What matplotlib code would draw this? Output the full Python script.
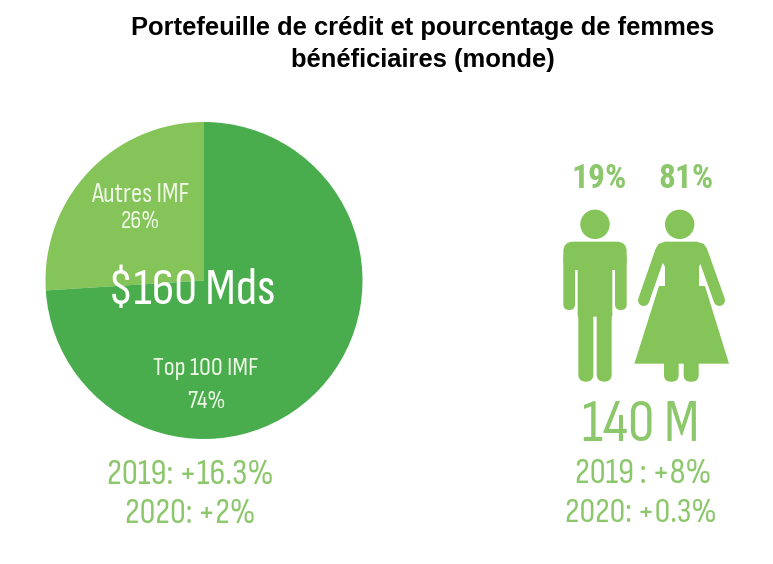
import matplotlib.pyplot as plt
from matplotlib.patches import FancyBboxPatch, Circle, Polygon

W, H = 773, 564

# pie data
pie_labels = ["Autres IMF", "Top 100 IMF"]
pie_shares = [26, 74]
pie_total = "$160 Mds"
pie_growth = ["2019: +16.3%", "2020: +2%"]

# people data
people_shares = [19, 81]
people_total = "140 M"
people_growth = ["2019 : +8%", "2020: +0.3%"]

DARK = "#4aad4d"
LIGHT = "#85c458"
TEXT_GREEN = "#8cc76c"
PALE = "#eef7e6"
NARROW = ["Sofia Sans Condensed", "Roboto Condensed", "Liberation Sans"]
NARROW_BOLD = ["Roboto Condensed", "Liberation Sans"]

fig = plt.figure(figsize=(W / 100, H / 100), dpi=100, facecolor="white")

# pie placed by its bounding box in pixels
cx, cy, r = 204, 280.5, 158.5
ax_pie = fig.add_axes([(cx - r) / W, 1 - (cy + r) / H, 2 * r / W, 2 * r / H])
ax_pie.pie(pie_shares, colors=[LIGHT, DARK], startangle=90, radius=1,
           wedgeprops={"linewidth": 0})
ax_pie.set_xlim(-1, 1)
ax_pie.set_ylim(-1, 1)

# overlay in pixel coordinates for the text and the icons
ax = fig.add_axes([0, 0, 1, 1], facecolor="none")
ax.set_xlim(0, W)
ax.set_ylim(H, 0)
ax.axis("off")


def zx(v):
    return 550 + v / 3


def zy(v):
    return 160 + v / 3


def rbox(x0, y0, x1, y1, rad):
    ax.add_patch(FancyBboxPatch((zx(x0), zy(y0)), (x1 - x0) / 3, (y1 - y0) / 3,
                                boxstyle=f"round,pad=0,rounding_size={rad / 3}",
                                fc=LIGHT, ec="none"))


def poly(points):
    ax.add_patch(Polygon([(zx(a), zy(b)) for a, b in points], closed=True, fc=LIGHT, ec="none"))


def limb(x0, y0, x1, y1, width):
    ax.plot([zx(x0), zx(x1)], [zy(y0), zy(y1)], color=LIGHT,
            lw=width / 3 * 0.72, solid_capstyle="round")


# man
ax.add_patch(Circle((zx(135), zy(193)), 14.7, fc=LIGHT, ec="none"))
rbox(40, 245, 230, 330, 30)
rbox(83, 300, 187, 470, 0)
rbox(40, 280, 75, 450, 17)
rbox(195, 280, 230, 450, 17)
rbox(85, 440, 130, 665, 22)
rbox(140, 440, 185, 665, 22)

# woman
ax.add_patch(Circle((zx(389), zy(193)), 14.7, fc=LIGHT, ec="none"))
limb(333, 272, 281, 421, 34)
limb(455, 272, 508, 421, 34)
poly([(345, 245), (440, 245), (462, 252), (472, 272), (447, 320), (345, 320),
      (316, 272), (325, 252)])
rbox(345, 310, 447, 380, 0)
poly([(327, 378), (465, 378), (537, 611), (253, 611)])
rbox(342, 590, 386, 665, 20)
rbox(401, 590, 446, 665, 20)

# title
ax.text(422.5, 28.5, "Portefeuille de crédit et pourcentage de femmes", ha="center",
        va="center", fontsize=18.4, fontweight="bold", family="Liberation Sans", color="black")
ax.text(422.5, 59.5, "bénéficiaires (monde)", ha="center", va="center",
        fontsize=18.4, fontweight="bold", family="Liberation Sans", color="black")

# labels on the pie
ax.text(140, 195, pie_labels[0], ha="center", va="center", color=PALE,
        fontsize=20, family=NARROW)
ax.text(140, 222, f"{pie_shares[0]}%", ha="center", va="center", color=PALE,
        fontsize=18, family=NARROW)
ax.text(206, 369, pie_labels[1], ha="center", va="center", color=PALE,
        fontsize=19, family=NARROW)
ax.text(206, 402, f"{pie_shares[1]}%", ha="center", va="center", color=PALE,
        fontsize=18, family=NARROW)
ax.text(191.5, 291, pie_total, ha="center", va="center", color="white",
        fontsize=37, fontweight="medium", family=NARROW)

# figures under the pie
ax.text(190.5, 475, pie_growth[0], ha="center", va="center", color=TEXT_GREEN,
        fontsize=26, family=NARROW)
ax.text(190.5, 514, pie_growth[1], ha="center", va="center", color=TEXT_GREEN,
        fontsize=25.5, family=NARROW)

# figures around the people
ax.text(599, 179, f"{people_shares[0]}%", ha="center", va="center", color=TEXT_GREEN,
        fontsize=24, fontweight="bold", family=NARROW_BOLD)
ax.text(686, 179, f"{people_shares[1]}%", ha="center", va="center", color=TEXT_GREEN,
        fontsize=24, fontweight="bold", family=NARROW_BOLD)
ax.text(640.5, 426, people_total, ha="center", va="center", color=TEXT_GREEN,
        fontsize=43, family=NARROW)
ax.text(643.5, 474, people_growth[0], ha="center", va="center", color=TEXT_GREEN,
        fontsize=25.8, family=NARROW)
ax.text(640.5, 513, people_growth[1], ha="center", va="center", color=TEXT_GREEN,
        fontsize=25.2, family=NARROW)

plt.savefig("out.png", dpi=100)
